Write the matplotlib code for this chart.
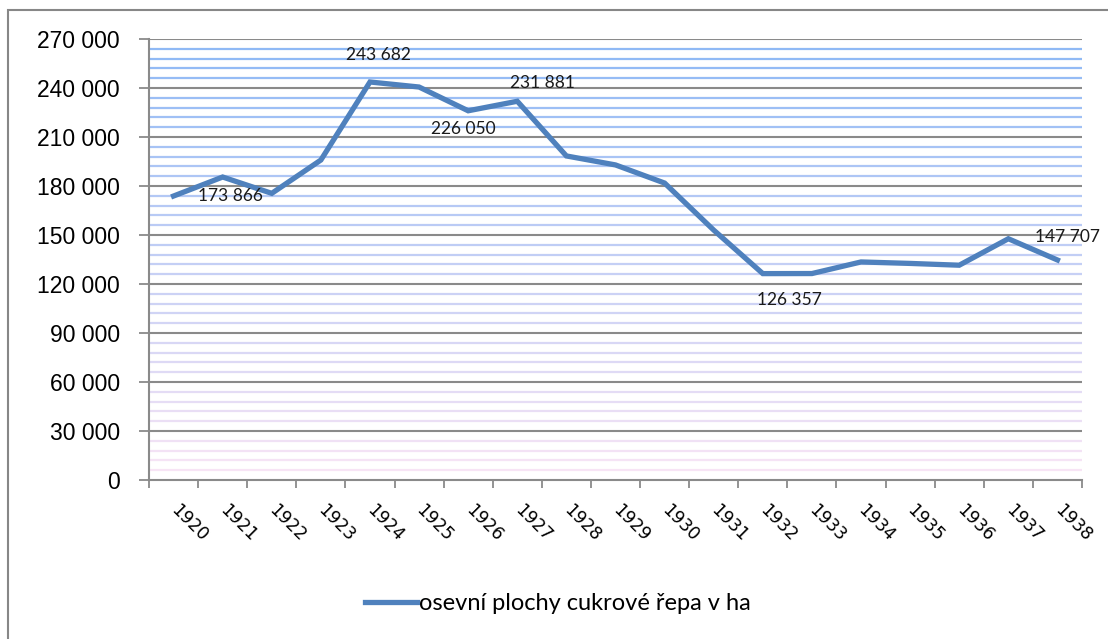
import matplotlib
matplotlib.use("Agg")
import matplotlib.pyplot as plt
import numpy as np
from matplotlib.patches import Rectangle

years = ["1920", "1921", "1922", "1923", "1924", "1925", "1926", "1927", "1928", "1929",
         "1930", "1931", "1932", "1933", "1934", "1935", "1936", "1937", "1938"]
area_ha = [173866, 185500, 175500, 195900, 243682, 240600, 226050, 231881, 198400, 192900,
           181800, 153000, 126357, 126400, 133500, 132600, 131500, 147707, 134700]
series_name = "osevní plochy cukrové řepa v ha"
labeled_years = ["1920", "1924", "1926", "1927", "1932", "1937"]
label_offsets_px = [(57, 0), (8, 27), (-5, -18), (25, 18), (27, -26), (59, 2)]
y_ticks = [0, 30000, 60000, 90000, 120000, 150000, 180000, 210000, 240000, 270000]

W, H = 1108, 639
fig = plt.figure(figsize=(W / 100, H / 100), dpi=100)
fig.patch.set_facecolor("white")

# outer chart frame
fig.add_artist(Rectangle((8 / W, -0.1), 1.2, (H - 10) / H + 0.1, transform=fig.transFigure,
                         fill=False, edgecolor="#878787", linewidth=1.5))

ax = fig.add_axes([149 / W, (H - 480) / H, (1082 - 149) / W, (480 - 39) / H])
ax.set_facecolor("white")
n = len(years)
x = np.arange(n)
ax.set_xlim(-0.5, n - 0.5)
ax.set_ylim(0, 270000)

# pattern-like minor lines with gradient blue -> pink
top_c = np.array([0.55, 0.72, 0.96])
bot_c = np.array([0.98, 0.90, 0.96])
for v in range(6000, 270001, 6000):
    if v % 30000 == 0:
        continue
    t = v / 270000
    c = bot_c + (top_c - bot_c) * t
    ax.axhline(v, color=c, lw=1.6, zorder=1)
for v in y_ticks[1:]:
    ax.axhline(v, color="#8a8a8a", lw=1.5, zorder=2)

ax.plot(x, area_ha, color="#4F81BD", lw=3.8, solid_joinstyle="miter", zorder=5,
        label=series_name)

for yr, (dx, dy) in zip(labeled_years, label_offsets_px):
    i = years.index(yr)
    val = area_ha[i]
    txt = f"{val:,}".replace(",", " ")
    ax.annotate(txt, (x[i], val), xytext=(dx, dy), textcoords="offset pixels",
                ha="center", va="center", fontsize=12.5, family="Lato", color="#1a1a1a",
                zorder=6)

ax.set_yticks(y_ticks)
ax.set_yticklabels([f"{v:,}".replace(",", " ") for v in y_ticks],
                   fontsize=16.5, family=["Liberation Sans", "DejaVu Sans"])
ax.set_xticks(np.arange(-0.5, n, 1.0))
ax.set_xticklabels([])
ax.set_xticks(x, minor=True)
ax.set_xticklabels(years, minor=True, rotation=-45, ha="left", va="center",
                   rotation_mode="anchor", fontsize=12.5, family="DejaVu Sans")
ax.tick_params(axis="x", which="minor", length=0, pad=20)
ax.tick_params(axis="x", which="major", length=6, color="#8a8a8a", width=1.3)
ax.tick_params(axis="y", length=7, color="#8a8a8a", width=1.3, pad=14)

for s in ["top", "right"]:
    ax.spines[s].set_visible(False)
for s in ["left", "bottom"]:
    ax.spines[s].set_color("#8a8a8a")
    ax.spines[s].set_linewidth(1.5)

leg = fig.legend(loc="center", bbox_to_anchor=(558 / W, (H - 604) / H), frameon=False,
                 prop={"family": "Lato", "size": 17}, handlelength=2.2, handletextpad=0.1)

fig.savefig("out.png", dpi=100, facecolor="white")
